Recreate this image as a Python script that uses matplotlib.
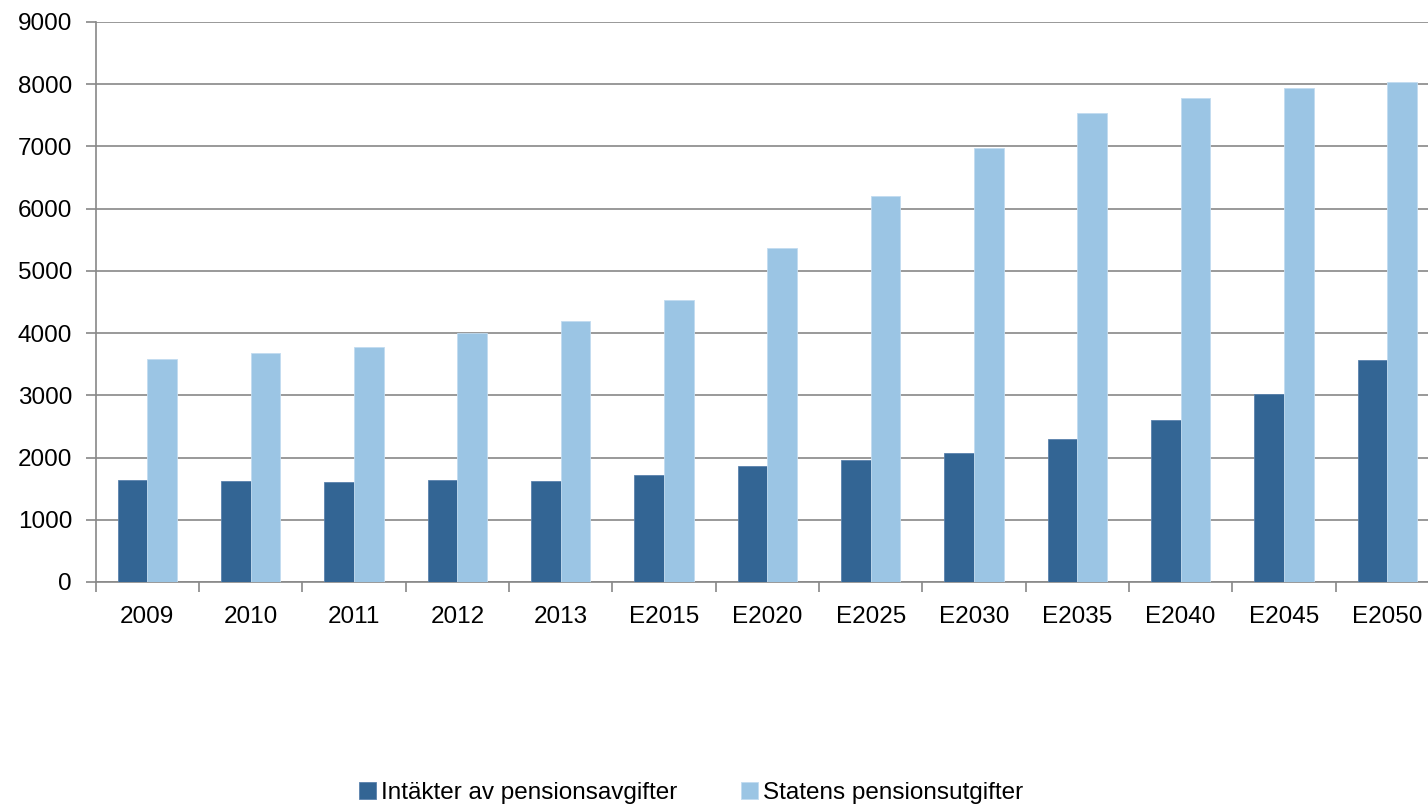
import numpy as np
import matplotlib
matplotlib.use('Agg')
import matplotlib.pyplot as plt
from matplotlib.ticker import MultipleLocator, FixedLocator

# データ
categories = ['2009', '2010', '2011', '2012', '2013', 'E2015', 'E2020',
              'E2025', 'E2030', 'E2035', 'E2040', 'E2045', 'E2050']
intakter = [1640, 1623, 1607, 1636, 1631, 1727, 1866, 1963, 2075, 2293, 2609, 3022, 3563]
utgifter = [3584, 3686, 3772, 4007, 4193, 4529, 5374, 6198, 6970, 7533, 7784, 7935, 8031]

label_dark = 'Intäkter av pensionsavgifter'
label_light = 'Statens pensionsutgifter'

plt.rcParams['font.family'] = ['Liberation Sans', 'DejaVu Sans']
fs = 17.5

fig = plt.figure(figsize=(14.28, 8.07), dpi=100)
W, H = 1428, 807
ax = fig.add_axes([95.7 / W, (H - 582) / H, (1439 - 95.7) / W, (582 - 22) / H])

x = np.arange(len(categories))
w = 0.286
ax.bar(x - w / 2, intakter, w, color='#336594', edgecolor='#5a82ad', linewidth=0.6,
       label=label_dark, zorder=3)
ax.bar(x + w / 2, utgifter, w, color='#9bc5e4', edgecolor='#c2dcf0', linewidth=0.6,
       label=label_light, zorder=3)

ax.set_xlim(-0.5, len(categories) - 0.5)
ax.set_ylim(0, 9000)
ax.yaxis.set_major_locator(MultipleLocator(1000))
ax.grid(True, axis='y', color='#888888', linewidth=1.2, zorder=0)
ax.set_axisbelow(True)

ax.set_xticks(x)
ax.set_xticklabels(categories)
ax.xaxis.set_minor_locator(FixedLocator(np.arange(-0.5, len(categories), 1.0)))
ax.tick_params(axis='x', which='major', length=0, pad=17, labelsize=fs)
ax.tick_params(axis='x', which='minor', length=7, width=1.2, color='#888888')
ax.tick_params(axis='y', length=7, width=1.2, color='#888888', pad=10, labelsize=fs)

for s in ['top', 'right']:
    ax.spines[s].set_visible(False)
for s in ['left', 'bottom']:
    ax.spines[s].set_color('#888888')
    ax.spines[s].set_linewidth(1.2)

fig.legend(loc='center', bbox_to_anchor=(691 / W, (H - 793) / H), ncol=2,
           frameon=False, fontsize=fs, handlelength=0.7, handleheight=0.7,
           handletextpad=0.2, columnspacing=2.6)

fig.savefig('out.png', dpi=100)
